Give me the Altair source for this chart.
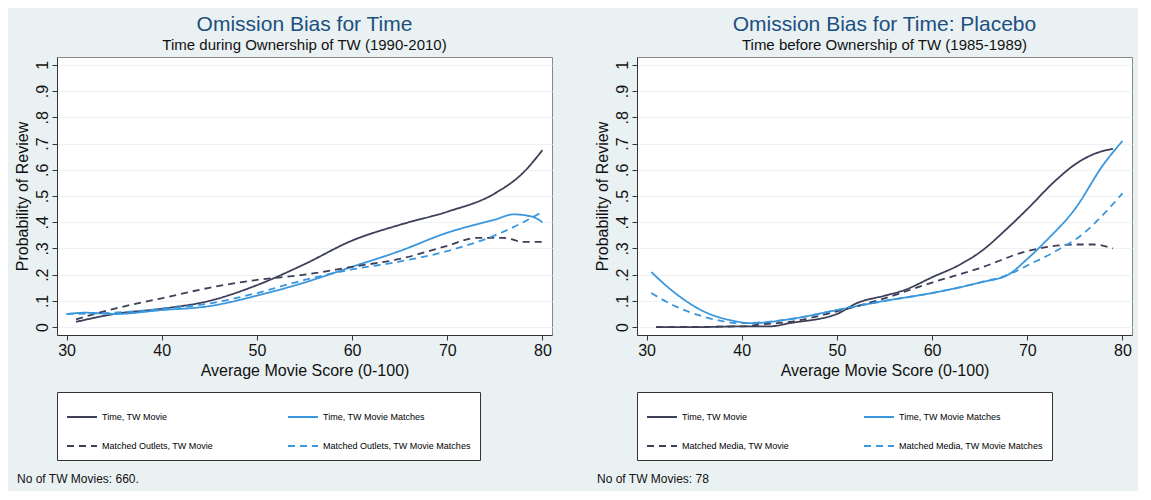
import altair as alt
import pandas as pd

S1 = "Time, TW Movie"
S2 = "Time, TW Movie Matches"

# Left panel (1990-2010)
l_time_x = [31, 35, 40, 45, 50, 55, 60, 65, 70, 75, 78, 80]
l_time_y = [0.02, 0.05, 0.07, 0.10, 0.16, 0.24, 0.33, 0.39, 0.44, 0.51, 0.59, 0.675]
l_timem_x = [30, 32, 35, 40, 45, 50, 55, 60, 65, 70, 75, 77, 79, 80]
l_timem_y = [0.05, 0.055, 0.05, 0.065, 0.08, 0.12, 0.17, 0.23, 0.29, 0.36, 0.41, 0.43, 0.42, 0.40]
l_out_x = [31, 35, 40, 45, 50, 55, 60, 65, 70, 73, 76, 78, 80]
l_out_y = [0.03, 0.07, 0.11, 0.15, 0.18, 0.20, 0.23, 0.26, 0.31, 0.34, 0.34, 0.325, 0.325]
l_outm_x = [30, 35, 40, 45, 50, 55, 60, 65, 70, 75, 78, 80]
l_outm_y = [0.05, 0.055, 0.07, 0.09, 0.13, 0.18, 0.22, 0.25, 0.29, 0.35, 0.40, 0.44]

# Right panel (1985-1989)
r_time_x = [31, 35, 40, 43, 45, 50, 52, 55, 57, 60, 63, 65, 68, 70, 73, 75, 77, 79]
r_time_y = [0, 0, 0.003, 0.003, 0.015, 0.05, 0.09, 0.12, 0.14, 0.19, 0.24, 0.285, 0.38, 0.45, 0.56, 0.62, 0.66, 0.68]
r_timem_x = [30.5, 33, 36, 39, 41, 45, 50, 55, 60, 65, 68, 70, 72, 75, 78, 80]
r_timem_y = [0.21, 0.13, 0.06, 0.025, 0.015, 0.03, 0.065, 0.10, 0.13, 0.17, 0.20, 0.26, 0.33, 0.45, 0.62, 0.71]
r_out_x = [31, 40, 42, 45, 50, 55, 60, 65, 70, 75, 77, 79]
r_out_y = [0, 0.003, 0.01, 0.02, 0.06, 0.11, 0.17, 0.225, 0.29, 0.315, 0.315, 0.30]
r_outm_x = [30.5, 33, 36, 40, 45, 50, 55, 60, 65, 68, 70, 73, 76, 78, 80]
r_outm_y = [0.13, 0.08, 0.04, 0.015, 0.03, 0.065, 0.10, 0.13, 0.17, 0.20, 0.235, 0.29, 0.36, 0.43, 0.51]

DARK = "#3d3f58"
BLUE = "#3a96dd"
TITLE = "#1c4f80"
FONT = "Liberation Sans"
W, H = 495, 278


def frame(series):
    rows = []
    for name, xs, ys in series:
        rows += [{"series": name, "x": x, "y": y} for x, y in zip(xs, ys)]
    return pd.DataFrame(rows)


def panel(title, subtitle, series, note):
    names = [s[0] for s in series]
    df = frame(series)
    lines = alt.Chart(df).mark_line(strokeWidth=1.8, interpolate="monotone").encode(
        x=alt.X("x:Q", title="Average Movie Score (0-100)",
                scale=alt.Scale(domain=[29, 81], nice=False),
                axis=alt.Axis(values=[30, 40, 50, 60, 70, 80], grid=False)),
        y=alt.Y("y:Q", title="Probability of Review",
                scale=alt.Scale(domain=[-0.03, 1.03], nice=False),
                axis=alt.Axis(values=[0, .1, .2, .3, .4, .5, .6, .7, .8, .9, 1],
                              labelExpr="datum.value == 0 ? '0' : datum.value == 1 ? '1' : replace(format(datum.value, '.1f'), '0.', '.')",
                              labelAngle=270, labelAlign="center", labelBaseline="bottom",
                              gridColor="#eef2f4")),
        color=alt.Color("series:N", sort=names,
                        scale=alt.Scale(domain=names, range=[DARK, BLUE, DARK, BLUE]),
                        legend=alt.Legend(orient="bottom", columns=2, title=None,
                                          symbolType="stroke", symbolSize=900,
                                          symbolStrokeWidth=1.8, labelFontSize=9,
                                          columnPadding=70, rowPadding=8,
                                          padding=9, strokeColor="#333",
                                          fillColor="white", offset=14)),
        strokeDash=alt.StrokeDash("series:N", sort=names,
                                  scale=alt.Scale(domain=names,
                                                  range=[[1, 0], [1, 0], [7, 5], [7, 5]]),
                                  legend=None),
    )
    txt = alt.Chart(pd.DataFrame({"t": [note]})).mark_text(
        align="left", baseline="top", fontSize=12, font=FONT, color="#111"
    ).encode(text="t:N", x=alt.value(-40), y=alt.value(H + 139))
    return alt.layer(lines, txt).properties(
        width=W, height=H,
        title=alt.TitleParams(title, subtitle=subtitle, fontSize=21, color=TITLE,
                              fontWeight="normal", subtitleFontSize=15,
                              subtitleColor="#111", font=FONT, subtitleFont=FONT))


left = panel("Omission Bias for Time", "Time during Ownership of TW (1990-2010)",
             [(S1, l_time_x, l_time_y), (S2, l_timem_x, l_timem_y),
              ("Matched Outlets, TW Movie", l_out_x, l_out_y),
              ("Matched Outlets, TW Movie Matches", l_outm_x, l_outm_y)],
             "No of TW Movies: 660.")
right = panel("Omission Bias for Time: Placebo", "Time before Ownership of TW (1985-1989)",
              [(S1, r_time_x, r_time_y), (S2, r_timem_x, r_timem_y),
               ("Matched Media, TW Movie", r_out_x, r_out_y),
               ("Matched Media, TW Movie Matches", r_outm_x, r_outm_y)],
              "No of TW Movies: 78")

chart = alt.hconcat(left, right, spacing=40).resolve_scale(
    color="independent", strokeDash="independent"
).configure(background="#eaf1f3", font=FONT).configure_view(
    fill="white", stroke="#888"
).configure_axis(
    labelFontSize=16, titleFontSize=16, labelColor="#111", titleColor="#111",
    domainColor="#333", tickColor="#333", titleFontWeight="normal", labelFont=FONT, titleFont=FONT
)

chart.save("out.html", embed_options={"renderer": "svg", "actions": False})
